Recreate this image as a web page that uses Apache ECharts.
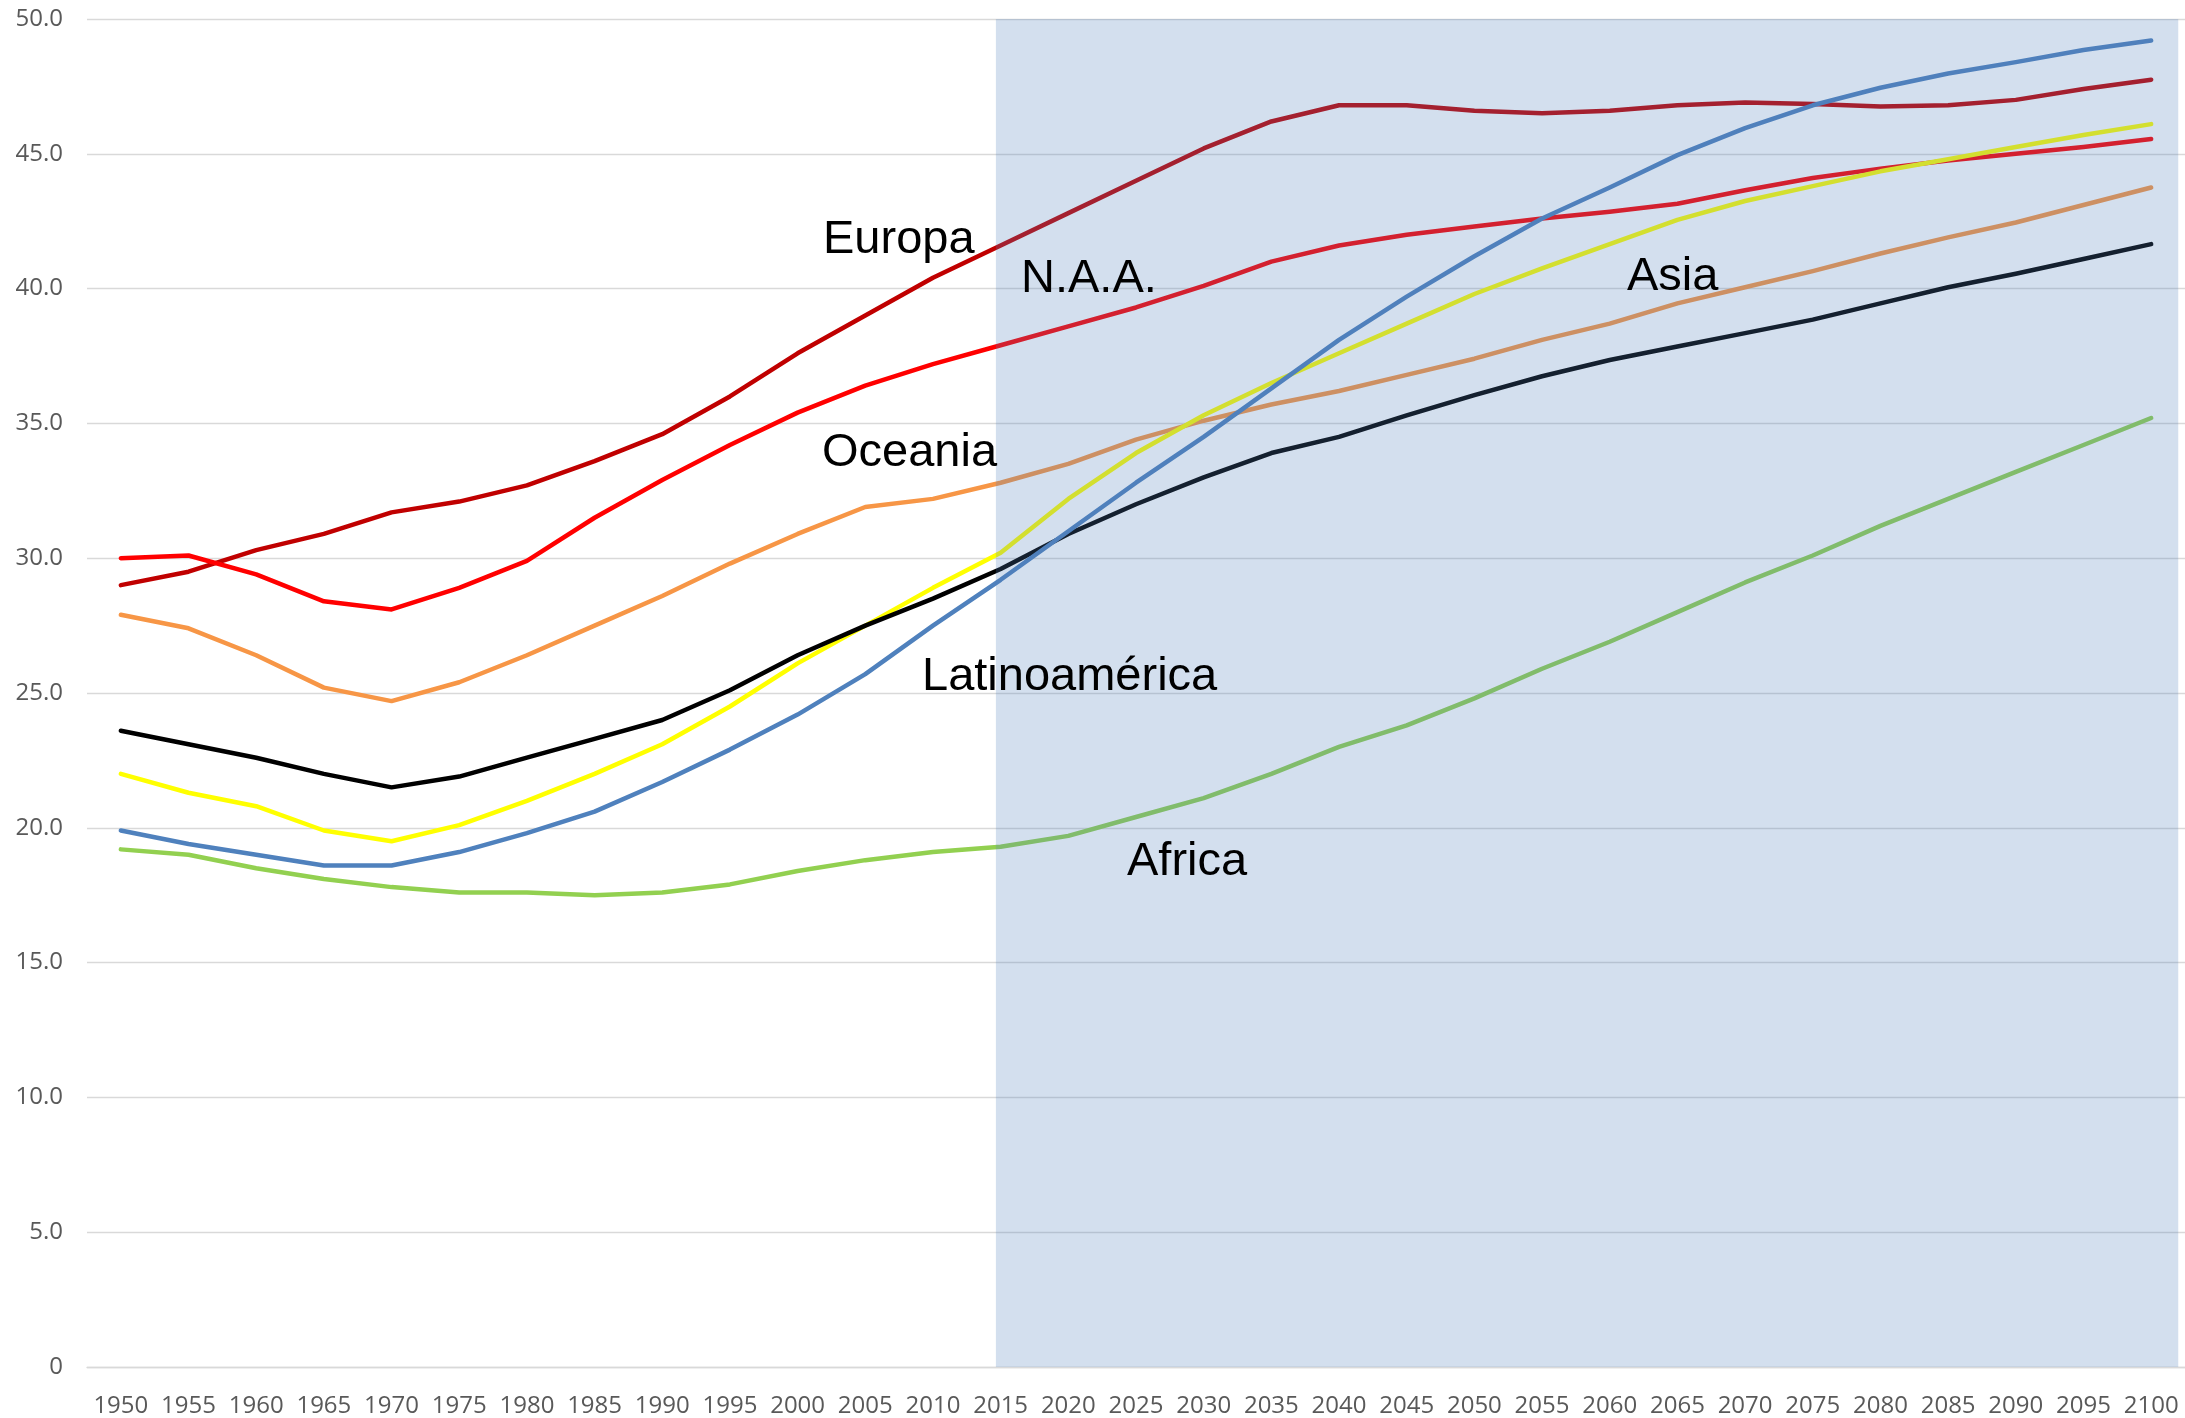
<!DOCTYPE html>
<html>
<head>
<meta charset="utf-8">
<script src="https://cdn.jsdelivr.net/npm/echarts@6/dist/echarts.min.js"></script>
<style>
html,body{margin:0;padding:0;background:#fff;}
#chart{width:2185px;height:1418px;}
</style>
</head>
<body>
<div id="chart"></div>
<script>
const years = ['1950','1955','1960','1965','1970','1975','1980','1985','1990','1995','2000','2005','2010','2015','2020','2025','2030','2035','2040','2045','2050','2055','2060','2065','2070','2075','2080','2085','2090','2095','2100'];

const europa  = [29.0, 29.5, 30.3, 30.9, 31.7, 32.1, 32.7, 33.6, 34.6, 36.0, 37.6, 39.0, 40.4, 41.6, 42.8, 44.0, 45.2, 46.2, 46.8, 46.8, 46.6, 46.5, 46.6, 46.8, 46.9, 46.85, 46.75, 46.8, 47.0, 47.4, 47.75];
const naa     = [30.0, 30.1, 29.4, 28.4, 28.1, 28.9, 29.9, 31.5, 32.9, 34.2, 35.4, 36.4, 37.2, 37.9, 38.6, 39.3, 40.1, 41.0, 41.6, 42.0, 42.3, 42.6, 42.85, 43.15, 43.65, 44.1, 44.45, 44.75, 45.0, 45.25, 45.55];
const oceania = [27.9, 27.4, 26.4, 25.2, 24.7, 25.4, 26.4, 27.5, 28.6, 29.8, 30.9, 31.9, 32.2, 32.8, 33.5, 34.4, 35.1, 35.7, 36.2, 36.8, 37.4, 38.1, 38.7, 39.45, 40.05, 40.65, 41.3, 41.9, 42.45, 43.1, 43.75];
const mundo   = [23.6, 23.1, 22.6, 22.0, 21.5, 21.9, 22.6, 23.3, 24.0, 25.1, 26.4, 27.5, 28.5, 29.6, 30.9, 32.0, 33.0, 33.9, 34.5, 35.3, 36.05, 36.75, 37.35, 37.85, 38.35, 38.85, 39.45, 40.05, 40.55, 41.1, 41.65];
const asia    = [22.0, 21.3, 20.8, 19.9, 19.5, 20.1, 21.0, 22.0, 23.1, 24.5, 26.1, 27.5, 28.9, 30.2, 32.2, 33.9, 35.3, 36.5, 37.6, 38.7, 39.8, 40.75, 41.65, 42.55, 43.25, 43.8, 44.35, 44.8, 45.25, 45.7, 46.1];
const latino  = [19.9, 19.4, 19.0, 18.6, 18.6, 19.1, 19.8, 20.6, 21.7, 22.9, 24.2, 25.7, 27.5, 29.2, 31.0, 32.8, 34.5, 36.3, 38.1, 39.7, 41.2, 42.6, 43.75, 44.95, 45.95, 46.8, 47.45, 47.98, 48.4, 48.85, 49.2];
const africa  = [19.2, 19.0, 18.5, 18.1, 17.8, 17.6, 17.6, 17.5, 17.6, 17.9, 18.4, 18.8, 19.1, 19.3, 19.7, 20.4, 21.1, 22.0, 23.0, 23.8, 24.8, 25.9, 26.9, 28.0, 29.1, 30.1, 31.2, 32.2, 33.2, 34.2, 35.2];

// projection shading, in category-index units
const shadeStart = 12.93;
const shadeEnd = 30.4;

const labels = [
  {text: 'Europa', x: 823, y: 240},
  {text: 'N.A.A.', x: 1021, y: 279},
  {text: 'Oceania', x: 822, y: 453},
  {text: 'Latinoamérica', x: 922, y: 677},
  {text: 'Asia', x: 1627, y: 277},
  {text: 'Africa', x: 1127, y: 862}
];

const chart = echarts.init(document.getElementById('chart'), null, {renderer: 'canvas'});

function lineSeries(name, data, color) {
  return {
    name: name, type: 'line', data: data, symbol: 'none', z: 2,
    lineStyle: {color: color, width: 4.5, cap: 'round', join: 'round'},
    itemStyle: {color: color}
  };
}

const option = {
  animation: false,
  backgroundColor: '#ffffff',
  grid: {left: 87, right: 0, top: 19, bottom: 51, containLabel: false},
  xAxis: [{
    type: 'category', data: years, boundaryGap: true,
    axisLine: {show: true, lineStyle: {color: '#d9d9d9', width: 1.3}},
    axisTick: {show: false},
    axisLabel: {interval: 0, color: '#595959', fontSize: 24, fontFamily: 'Open Sans', margin: 27}
  }, {
    type: 'value', min: -0.5, max: 30.5, show: false
  }],
  yAxis: {
    type: 'value', min: 0, max: 50, interval: 5,
    axisLine: {show: false}, axisTick: {show: false},
    splitLine: {lineStyle: {color: '#d9d9d9', width: 1.3}},
    axisLabel: {
      color: '#595959', fontSize: 24, fontFamily: 'Open Sans', margin: 24,
      formatter: function (v) { return v === 0 ? '0' : v.toFixed(1); }
    }
  },
  series: [
    lineSeries('Europa', europa, '#c00000'),
    lineSeries('N.A.A.', naa, '#ff0000'),
    lineSeries('Oceania', oceania, '#f79646'),
    lineSeries('Asia', asia, '#ffff00'),
    lineSeries('Mundo', mundo, '#000000'),
    lineSeries('Africa', africa, '#92d050'),
    lineSeries('Latinoamérica', latino, '#4f81bd'),
    {
      name: 'proyección', type: 'line', xAxisIndex: 1, data: [], z: 10,
      markArea: {
        silent: true, z: 10,
        itemStyle: {color: 'rgba(79,129,189,0.25)'},
        data: [[{xAxis: shadeStart}, {xAxis: shadeEnd}]]
      }
    }
  ],
  graphic: labels.map(function (l) {
    return {
      type: 'text', x: l.x, y: l.y, z: 100,
      style: {text: l.text, fill: '#000000', fontSize: 47, fontFamily: 'Liberation Sans, Arial, sans-serif', verticalAlign: 'middle', align: 'left'}
    };
  })
};
chart.setOption(option);
</script>
</body>
</html>
